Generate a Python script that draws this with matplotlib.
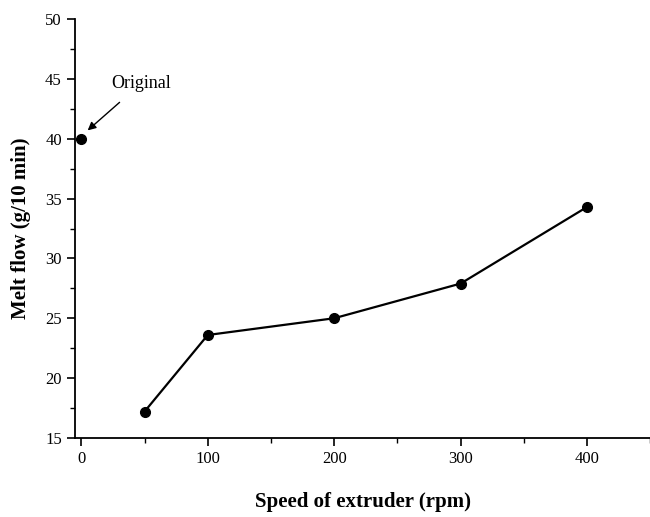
import matplotlib.pyplot as plt
from matplotlib.ticker import MultipleLocator

# data
speed = [50, 100, 200, 300, 400]
melt_flow = [17.2, 23.6, 25.0, 27.9, 34.3]
orig_speed = 0
orig_flow = 40.0

plt.rcParams['font.family'] = 'Liberation Serif'

fig = plt.figure(figsize=(6.5, 5.17), dpi=100)
ax = fig.add_axes([0.1154, 0.153, 0.885, 0.81])

ax.plot(speed, melt_flow, color='black', lw=1.6, marker='o', ms=7)
ax.plot([orig_speed], [orig_flow], color='black', marker='o', ms=7, ls='none')

ax.annotate('Original', xy=(5, 40.7), xytext=(47, 44.6),
            fontsize=13, ha='center', va='center',
            arrowprops=dict(arrowstyle='-|>', color='black', lw=1,
                            shrinkA=8, shrinkB=0, mutation_scale=12))

ax.set_xlim(-5, 450)
ax.set_ylim(15, 50)
ax.xaxis.set_major_locator(MultipleLocator(100))
ax.xaxis.set_minor_locator(MultipleLocator(50))
ax.yaxis.set_major_locator(MultipleLocator(5))
ax.yaxis.set_minor_locator(MultipleLocator(2.5))

ax.spines['top'].set_visible(False)
ax.spines['right'].set_visible(False)
for s in ['left', 'bottom']:
    ax.spines[s].set_linewidth(1.3)

ax.tick_params(which='major', length=6, width=1.2, labelsize=12)
ax.tick_params(which='minor', length=3.5, width=1.0)

ax.set_xlabel('Speed of extruder (rpm)', fontsize=15, fontweight='bold', labelpad=18)
ax.set_ylabel('Melt flow (g/10 min)', fontsize=15, fontweight='bold', labelpad=10)

fig.savefig('out.png', dpi=100)
